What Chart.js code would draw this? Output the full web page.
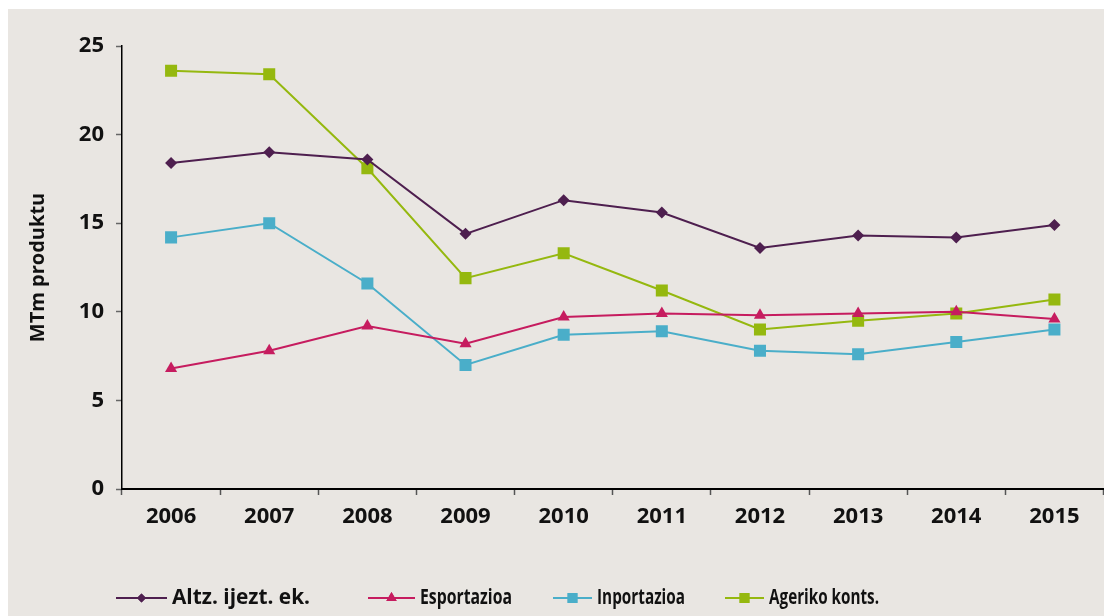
<!DOCTYPE html>
<html>
<head>
<meta charset="utf-8">
<script src="https://cdn.jsdelivr.net/npm/chart.js@4"></script>
<style>
  html, body { margin: 0; padding: 0; background: #ffffff; overflow: hidden; width: 1104px; height: 616px; }
  #wrap { position: absolute; left: 0; top: 0; width: 1112px; height: 616px; }
</style>
</head>
<body>
<div id="wrap"><canvas id="c" width="1112" height="616"></canvas></div>
<script>
const years = ['2006','2007','2008','2009','2010','2011','2012','2013','2014','2015'];
const altzIjeztEk = [18.4, 19.0, 18.6, 14.4, 16.3, 15.6, 13.6, 14.3, 14.2, 14.9];
const esportazioa = [6.8, 7.8, 9.2, 8.2, 9.7, 9.9, 9.8, 9.9, 10.0, 9.6];
const inportazioa = [14.2, 15.0, 11.6, 7.0, 8.7, 8.9, 7.8, 7.6, 8.3, 9.0];
const agerikoKonts = [23.6, 23.4, 18.1, 11.9, 13.3, 11.2, 9.0, 9.5, 9.9, 10.7];
const seriesNames = ['Altz. ijezt. ek.', 'Esportazioa', 'Inportazioa', 'Ageriko konts.'];
const yTicks = [0, 5, 10, 15, 20, 25];
const yTitle = 'MTm produktu';

const FONT = "'Open Sans', 'DejaVu Sans', sans-serif";
const colors = ['#4e1f4f', '#c61c5f', '#4aaec9', '#95b80f'];
const styles = ['rectRot', 'triangle', 'rect', 'rect'];
const radii = [6, 7, 8.5, 8.5];

const bgPlugin = {
  id: 'bg',
  beforeDraw(chart) {
    const ctx = chart.ctx;
    ctx.save();
    ctx.fillStyle = '#e9e6e2';
    ctx.fillRect(8, 9, chart.width - 8, chart.height - 9);
    ctx.restore();
  }
};

const legendPos = [116, 368, 553, 725];
const legendLine = [51, 47, 39, 39];
const legendRadii = [4.5, 6, 7, 7];
const legendTextMax = [138, 92, 88, 110];
const customLegend = {
  id: 'customLegend',
  afterDraw(chart) {
    const ctx = chart.ctx;
    const y = 598;
    ctx.save();
    chart.data.datasets.forEach((ds, i) => {
      const x0 = legendPos[i];
      const L = legendLine[i];
      ctx.strokeStyle = ds.borderColor;
      ctx.lineWidth = 2;
      ctx.beginPath();
      ctx.moveTo(x0, y);
      ctx.lineTo(x0 + L, y);
      ctx.stroke();
      ctx.fillStyle = ds.borderColor;
      Chart.helpers.drawPoint(ctx, {pointStyle: ds.pointStyle, radius: legendRadii[i], borderWidth: 0}, x0 + L / 2, y);
      ctx.fill();
      ctx.fillStyle = '#111111';
      ctx.font = "bold 21px " + FONT;
      ctx.textBaseline = 'middle';
      ctx.textAlign = 'left';
      ctx.fillText(ds.label, x0 + L + 5, y, legendTextMax[i]);
    });
    ctx.restore();
  }
};

const dataSeries = [altzIjeztEk, esportazioa, inportazioa, agerikoKonts];

new Chart(document.getElementById('c'), {
  type: 'line',
  data: {
    labels: years,
    datasets: dataSeries.map((d, i) => ({
      label: seriesNames[i],
      data: d,
      borderColor: colors[i],
      backgroundColor: colors[i],
      borderWidth: 2,
      pointStyle: styles[i],
      pointRadius: radii[i],
      pointBorderWidth: 0,
      pointHoverRadius: radii[i],
      tension: 0,
      fill: false
    }))
  },
  options: {
    responsive: false,
    animation: false,
    events: [],
    layout: { padding: { left: 0, top: 46, right: 3, bottom: 77 } },
    plugins: {
      legend: { display: false },
      tooltip: { enabled: false },
      title: { display: false }
    },
    scales: {
      x: {
        offset: true,
        grid: { display: true, drawOnChartArea: false, offset: true, tickLength: 6, tickColor: '#555555', tickWidth: 1.5 },
        border: { display: true, color: '#000000', width: 2 },
        ticks: { color: '#111111', font: { family: FONT, size: 22, weight: 'bold' }, padding: 9, maxRotation: 0, autoSkip: false },
        afterFit(s) { s.height = 50; }
      },
      y: {
        min: 0, max: 25,
        afterBuildTicks(s) { s.ticks = yTicks.map(v => ({ value: v })); },
        grid: { display: true, drawOnChartArea: false, tickLength: 6, tickColor: '#666666', tickWidth: 1.5 },
        border: { display: true, color: '#000000', width: 1.5 },
        ticks: { color: '#111111', font: { family: FONT, size: 22, weight: 'bold' }, padding: 12 },
        title: { display: true, text: yTitle, color: '#111111', font: { family: FONT, size: 20, weight: 'bold' }, padding: { top: 26, bottom: 0 } },
        afterFit(s) { s.width = 122; }
      }
    }
  },
  plugins: [bgPlugin, customLegend]
});
</script>
</body>
</html>
